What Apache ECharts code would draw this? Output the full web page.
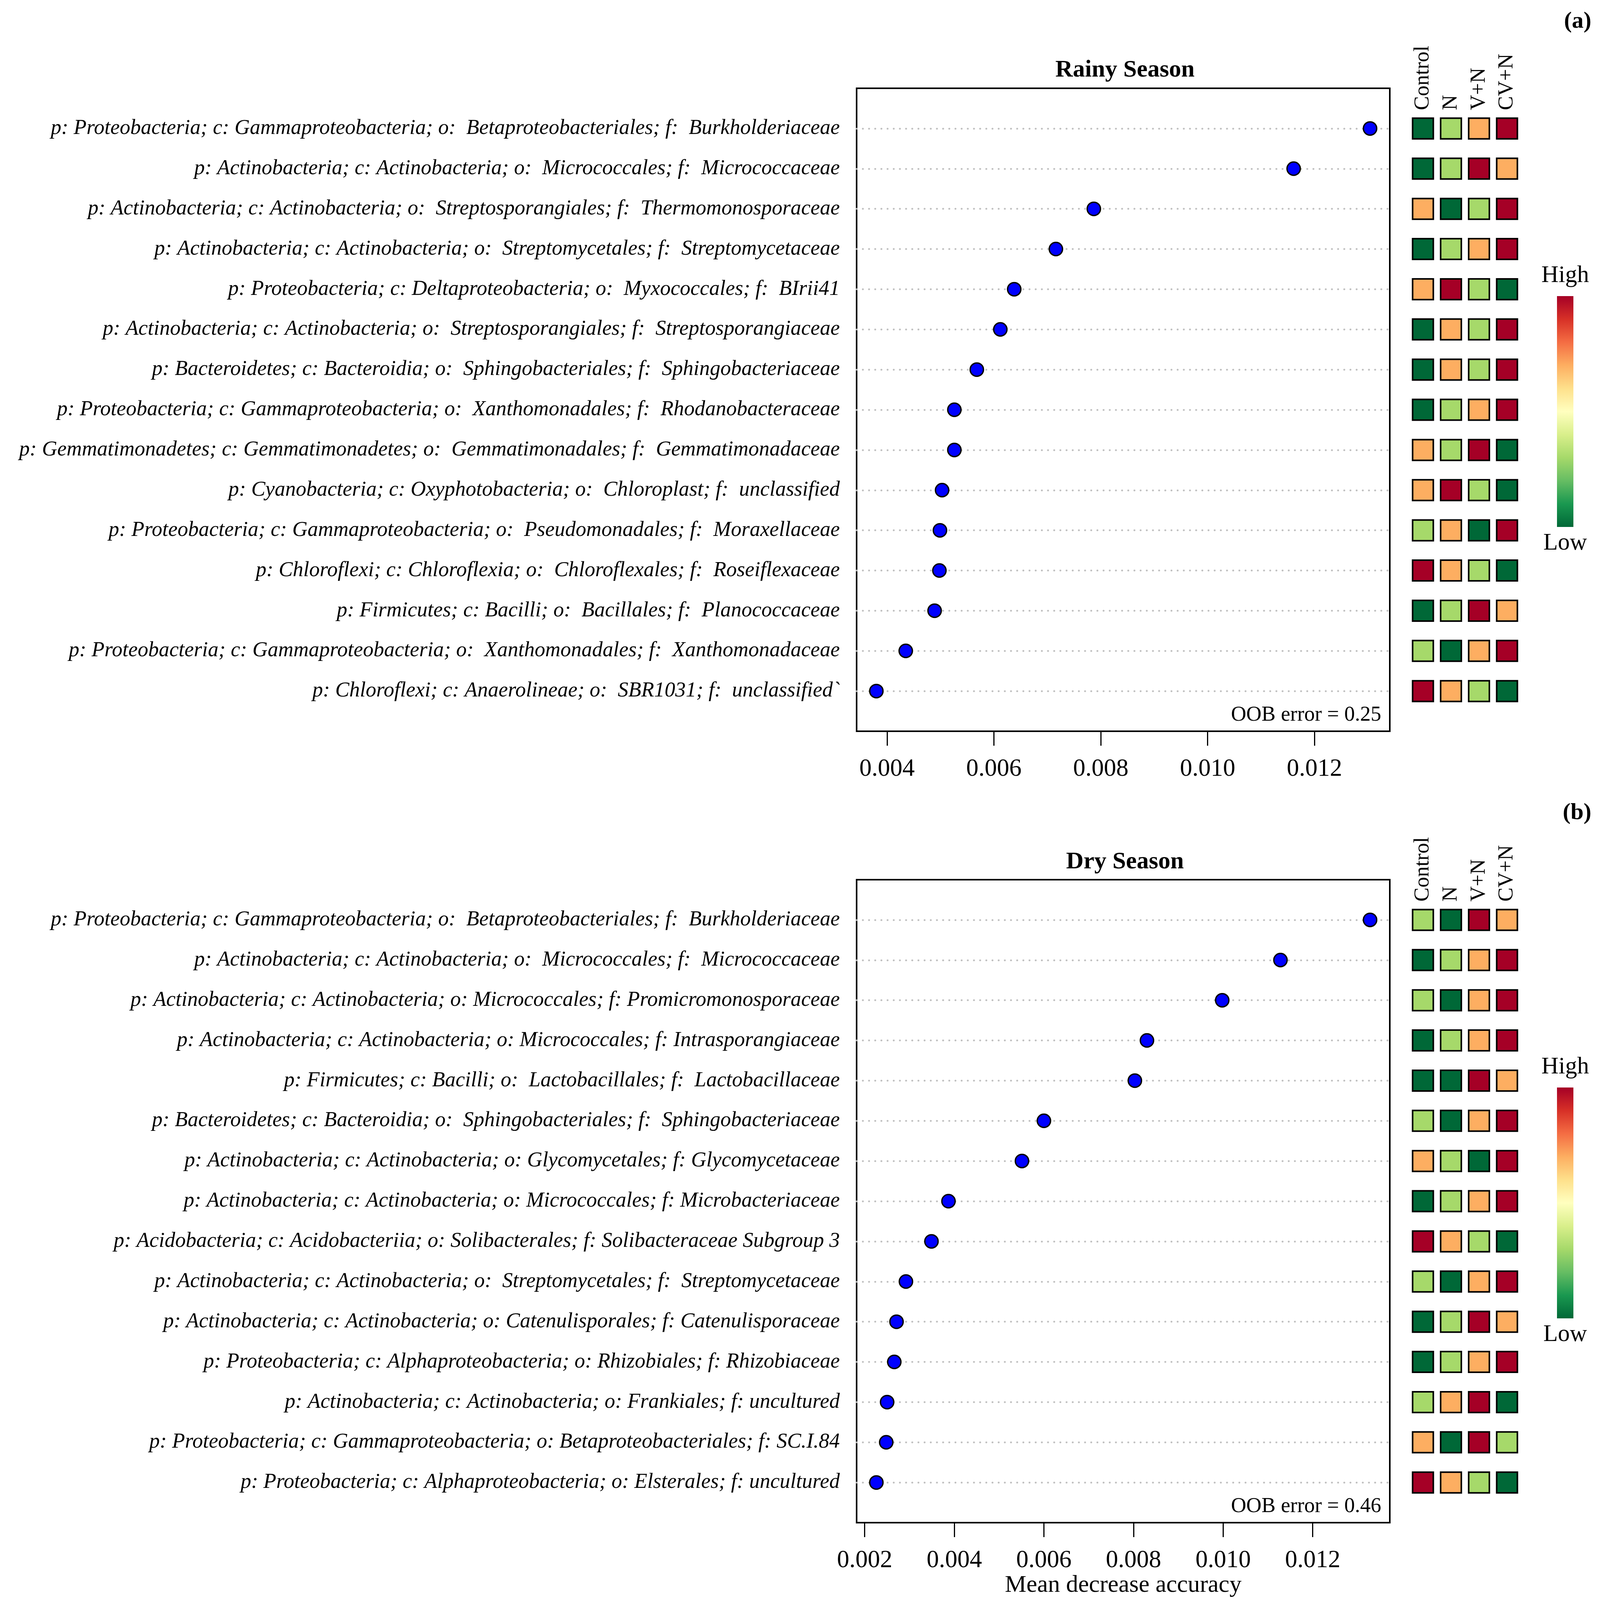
<!DOCTYPE html>
<html>
<head>
<meta charset="utf-8">
<script src="https://cdn.jsdelivr.net/npm/echarts@6/dist/echarts.min.js"></script>
<style>
  html, body { margin: 0; padding: 0; background: #fff; overflow: hidden; }
  #chart { width: 4091px; height: 4249px; }
</style>
</head>
<body>
<div id="chart"></div>
<script>
// treatments shown as heatmap columns
var treatments = ['Control', 'N', 'V+N', 'CV+N'];

// rainy season, top row first
var rainyTaxa = [
  'p: Proteobacteria; c: Gammaproteobacteria; o:  Betaproteobacteriales; f:  Burkholderiaceae',
  'p: Actinobacteria; c: Actinobacteria; o:  Micrococcales; f:  Micrococcaceae',
  'p: Actinobacteria; c: Actinobacteria; o:  Streptosporangiales; f:  Thermomonosporaceae',
  'p: Actinobacteria; c: Actinobacteria; o:  Streptomycetales; f:  Streptomycetaceae',
  'p: Proteobacteria; c: Deltaproteobacteria; o:  Myxococcales; f:  BIrii41',
  'p: Actinobacteria; c: Actinobacteria; o:  Streptosporangiales; f:  Streptosporangiaceae',
  'p: Bacteroidetes; c: Bacteroidia; o:  Sphingobacteriales; f:  Sphingobacteriaceae',
  'p: Proteobacteria; c: Gammaproteobacteria; o:  Xanthomonadales; f:  Rhodanobacteraceae',
  'p: Gemmatimonadetes; c: Gemmatimonadetes; o:  Gemmatimonadales; f:  Gemmatimonadaceae',
  'p: Cyanobacteria; c: Oxyphotobacteria; o:  Chloroplast; f:  unclassified',
  'p: Proteobacteria; c: Gammaproteobacteria; o:  Pseudomonadales; f:  Moraxellaceae',
  'p: Chloroflexi; c: Chloroflexia; o:  Chloroflexales; f:  Roseiflexaceae',
  'p: Firmicutes; c: Bacilli; o:  Bacillales; f:  Planococcaceae',
  'p: Proteobacteria; c: Gammaproteobacteria; o:  Xanthomonadales; f:  Xanthomonadaceae',
  'p: Chloroflexi; c: Anaerolineae; o:  SBR1031; f:  unclassified`'
];
var rainyMDA = [0.01304, 0.01161, 0.00787, 0.00716, 0.00638, 0.00612, 0.00568, 0.00526,
  0.00526, 0.00503, 0.00499, 0.00498, 0.00489, 0.00435, 0.00380];
// relative abundance rank per treatment (1 = low ... 4 = high)
var rainyRank = [
  [1, 2, 3, 4], [1, 2, 4, 3], [3, 1, 2, 4], [1, 2, 3, 4], [3, 4, 2, 1],
  [1, 3, 2, 4], [1, 3, 2, 4], [1, 2, 3, 4], [3, 2, 4, 1], [3, 4, 2, 1],
  [2, 3, 1, 4], [4, 3, 2, 1], [1, 2, 4, 3], [2, 1, 3, 4], [4, 3, 2, 1]
];
var rainyTicks = [0.004, 0.006, 0.008, 0.010, 0.012];

// dry season, top row first
var dryTaxa = [
  'p: Proteobacteria; c: Gammaproteobacteria; o:  Betaproteobacteriales; f:  Burkholderiaceae',
  'p: Actinobacteria; c: Actinobacteria; o:  Micrococcales; f:  Micrococcaceae',
  'p: Actinobacteria; c: Actinobacteria; o: Micrococcales; f: Promicromonosporaceae',
  'p: Actinobacteria; c: Actinobacteria; o: Micrococcales; f: Intrasporangiaceae',
  'p: Firmicutes; c: Bacilli; o:  Lactobacillales; f:  Lactobacillaceae',
  'p: Bacteroidetes; c: Bacteroidia; o:  Sphingobacteriales; f:  Sphingobacteriaceae',
  'p: Actinobacteria; c: Actinobacteria; o: Glycomycetales; f: Glycomycetaceae',
  'p: Actinobacteria; c: Actinobacteria; o: Micrococcales; f: Microbacteriaceae',
  'p: Acidobacteria; c: Acidobacteriia; o: Solibacterales; f: Solibacteraceae Subgroup 3',
  'p: Actinobacteria; c: Actinobacteria; o:  Streptomycetales; f:  Streptomycetaceae',
  'p: Actinobacteria; c: Actinobacteria; o: Catenulisporales; f: Catenulisporaceae',
  'p: Proteobacteria; c: Alphaproteobacteria; o: Rhizobiales; f: Rhizobiaceae',
  'p: Actinobacteria; c: Actinobacteria; o: Frankiales; f: uncultured',
  'p: Proteobacteria; c: Gammaproteobacteria; o: Betaproteobacteriales; f: SC.I.84',
  'p: Proteobacteria; c: Alphaproteobacteria; o: Elsterales; f: uncultured'
];
var dryMDA = [0.01328, 0.01128, 0.00998, 0.00830, 0.00803, 0.00600, 0.00551, 0.00387,
  0.00349, 0.00292, 0.00271, 0.00266, 0.00250, 0.00248, 0.00226];
var dryRank = [
  [2, 1, 4, 3], [1, 2, 3, 4], [2, 1, 3, 4], [1, 2, 3, 4], [1, 1, 4, 3],
  [2, 1, 3, 4], [3, 2, 1, 4], [1, 2, 3, 4], [4, 3, 2, 1], [2, 1, 3, 4],
  [1, 2, 4, 3], [1, 2, 3, 4], [2, 3, 4, 1], [3, 1, 4, 2], [4, 3, 2, 1]
];
var dryTicks = [0.002, 0.004, 0.006, 0.008, 0.010, 0.012];

var rankColors = ['#006837', '#A6D96A', '#FDAE61', '#A50026'];
var serif = 'Liberation Serif, Times New Roman, serif';

// the window may be shorter than the 4249px figure: squeeze vertically to fit
var H = Math.min(window.innerHeight || 4249, 4249);
var sy = H / 4249;
function Y(v) { return Math.round(v * sy); }
document.getElementById('chart').style.height = H + 'px';

var option = {
  backgroundColor: '#fff',
  animation: false,
  title: [], grid: [], xAxis: [], yAxis: [], series: [], graphic: []
};

function addPanel(name, taxa, mda, ranks, ticks, oob, tag, dy) {
  var n = taxa.length;
  var gi = option.grid.length;
  // R style 4% extension of the data range
  var lo = Math.min.apply(null, mda), hi = Math.max.apply(null, mda);
  var pad = (hi - lo) * 0.04;

  option.title.push({
    text: name, left: 2875, top: Y(183 + dy) - 32, textAlign: 'center',
    textStyle: { fontFamily: serif, fontWeight: 'bold', fontSize: 62, color: '#000' }
  });

  // dot chart
  option.grid.push({
    left: 2193, top: Y(234 + dy), width: 1365, height: Y(1708),
    show: true, borderColor: '#000', borderWidth: 4, backgroundColor: 'transparent'
  });
  option.xAxis.push({
    type: 'value', gridIndex: gi, min: lo - pad, max: hi + pad,
    name: dy > 0 ? 'Mean decrease accuracy' : '',
    nameLocation: 'middle', nameGap: Y(156) - 32,
    nameTextStyle: { fontFamily: serif, fontSize: 62, color: '#000' },
    axisLine: { show: false },
    axisTick: { show: true, customValues: ticks, length: Y(38), lineStyle: { color: '#000', width: 3 } },
    axisLabel: {
      customValues: ticks, margin: Y(102) - 32, fontFamily: serif, fontSize: 63, color: '#000',
      formatter: function (v) { return v.toFixed(3); }
    },
    splitLine: { show: false }
  });
  option.yAxis.push({
    type: 'value', gridIndex: gi, min: 0, max: n + 1, interval: 1,
    axisLine: { show: false }, axisTick: { show: false },
    axisLabel: {
      margin: 43, fontFamily: serif, fontStyle: 'italic', fontSize: 54, color: '#000',
      padding: [0, 0, 20, 0],
      formatter: function (v) { return taxa[n - v] || ''; }
    },
    splitLine: {
      show: true, showMinLine: false, showMaxLine: false,
      lineStyle: { color: '#BEBEBE', width: 4.5, type: [0.5, 15.3], cap: 'round' }
    }
  });
  option.series.push({
    type: 'scatter', xAxisIndex: gi, yAxisIndex: gi,
    symbol: 'circle', symbolSize: 34, z: 5,
    itemStyle: { color: '#0000FF', borderColor: '#000', borderWidth: 3.5, opacity: 1 },
    data: mda.map(function (v, i) { return [v, n - i]; })
  });

  // treatment heatmap
  var hi2 = gi + 1;
  option.grid.push({ left: 3607, top: Y(234 + dy), width: 287, height: Y(1708), show: false });
  option.xAxis.push({
    type: 'category', gridIndex: hi2, data: treatments, position: 'top', offset: -Y(58),
    axisLine: { show: false }, axisTick: { show: false },
    axisLabel: { rotate: 90, margin: 0, fontFamily: serif, fontSize: 54, color: '#000', interval: 0 }
  });
  option.yAxis.push({
    type: 'value', gridIndex: hi2, min: 0, max: n + 1, show: false
  });
  var cells = [];
  ranks.forEach(function (row, i) {
    row.forEach(function (r, j) { cells.push([j, n - i, r]); });
  });
  option.series.push({
    type: 'scatter', xAxisIndex: hi2, yAxisIndex: hi2,
    symbol: 'rect', symbolSize: 53,
    itemStyle: {
      borderColor: '#000', borderWidth: 4, opacity: 1,
      color: function (p) { return rankColors[p.data[2] - 1]; }
    },
    data: cells
  });

  // colour key
  option.graphic.push({
    type: 'rect', shape: { x: 3986, y: Y(786 + dy), width: 42, height: Y(613) },
    style: {
      fill: new echarts.graphic.LinearGradient(0, 0, 0, 1, [
        { offset: 0, color: '#A50026' }, { offset: 0.1, color: '#D73027' },
        { offset: 0.2, color: '#F46D43' }, { offset: 0.3, color: '#FDAE61' },
        { offset: 0.4, color: '#FEE08B' }, { offset: 0.5, color: '#FFFFBF' },
        { offset: 0.6, color: '#D9EF8B' }, { offset: 0.7, color: '#A6D96A' },
        { offset: 0.8, color: '#66BD63' }, { offset: 0.9, color: '#1A9850' },
        { offset: 1, color: '#006837' }
      ])
    }
  });
  option.graphic.push({
    type: 'text', x: 4007, y: Y(732 + dy),
    style: { text: 'High', font: '61px ' + serif, fill: '#000', align: 'center', verticalAlign: 'middle' }
  });
  option.graphic.push({
    type: 'text', x: 4007, y: Y(1443 + dy),
    style: { text: 'Low', font: '61px ' + serif, fill: '#000', align: 'center', verticalAlign: 'middle' }
  });
  option.graphic.push({
    type: 'text', x: 3536, y: Y(1899 + dy),
    style: { text: 'OOB error = ' + oob, font: '54px ' + serif, fill: '#000', align: 'right', verticalAlign: 'middle' }
  });
  option.graphic.push({
    type: 'text', x: 4074, y: Y(57 + dy),
    style: { text: tag, font: 'bold 60px ' + serif, fill: '#000', align: 'right', verticalAlign: 'middle' }
  });
}

addPanel('Rainy Season', rainyTaxa, rainyMDA, rainyRank, rainyTicks, '0.25', '(a)', 0);
addPanel('Dry Season', dryTaxa, dryMDA, dryRank, dryTicks, '0.46', '(b)', 2102);

var myChart = echarts.init(document.getElementById('chart'));
myChart.setOption(option);
</script>
</body>
</html>
